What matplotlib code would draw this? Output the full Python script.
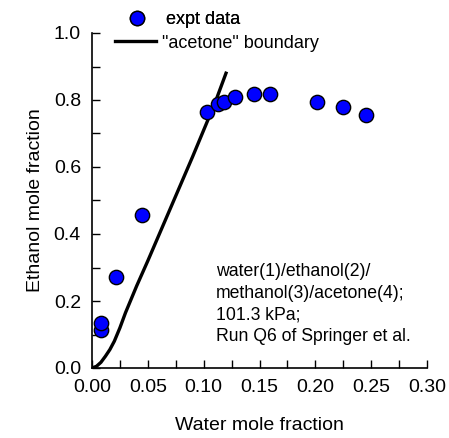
import matplotlib.pyplot as plt
from matplotlib.ticker import MultipleLocator

plt.rcParams["font.family"] = ["Liberation Sans", "DejaVu Sans"]

# experimental points (water, ethanol mole fractions)
x_expt = [0.0078, 0.0078, 0.0215, 0.0445, 0.1027, 0.1131, 0.118, 0.128,
          0.145, 0.159, 0.2018, 0.2245, 0.2454]
y_expt = [0.113, 0.135, 0.273, 0.457, 0.765, 0.787, 0.795, 0.810,
          0.817, 0.817, 0.794, 0.778, 0.755]

# "acetone" boundary curve
x_bound = [0.0, 0.004, 0.008, 0.012, 0.016, 0.02, 0.025, 0.03, 0.04,
           0.05, 0.07, 0.09, 0.11, 0.12]
y_bound = [0.0, 0.005, 0.017, 0.035, 0.055, 0.08, 0.12, 0.165, 0.245,
           0.32, 0.475, 0.63, 0.79, 0.88]

W, H = 449, 438
fig = plt.figure(figsize=(W / 100, H / 100), dpi=100)
ax = fig.add_axes([92 / W, 1 - 368 / H, 335 / W, 335 / H])

line, = ax.plot(x_bound, y_bound, color="black", lw=2.4, zorder=2)
pts, = ax.plot(x_expt, y_expt, "o", ms=10.3, mfc="#0000ff", mec="black",
               mew=1.0, zorder=3, clip_on=False)

ax.set_xlim(0, 0.30)
ax.set_ylim(0, 1.0)
ax.xaxis.set_major_locator(MultipleLocator(0.05))
ax.xaxis.set_minor_locator(MultipleLocator(0.025))
ax.yaxis.set_major_locator(MultipleLocator(0.2))
ax.yaxis.set_minor_locator(MultipleLocator(0.1))
ax.xaxis.set_major_formatter(plt.FormatStrFormatter("%.2f"))
ax.yaxis.set_major_formatter(plt.FormatStrFormatter("%.1f"))
ax.tick_params(which="both", direction="in", length=5.5, width=1,
               labelsize=14, pad=8, top=False, right=False)
for s in ["top", "right"]:
    ax.spines[s].set_visible(False)
for s in ["left", "bottom"]:
    ax.spines[s].set_linewidth(1.2)

ax.set_xlabel("Water mole fraction", fontsize=14)
ax.set_ylabel("Ethanol mole fraction", fontsize=14)
ax.xaxis.set_label_coords(0.5, -0.145)
ax.yaxis.set_label_coords(-0.143, 0.5)

ax.text(0.370, 0.313,
        "water(1)/ethanol(2)/\nmethanol(3)/acetone(4);\n101.3 kPa;\nRun Q6 of Springer et al.",
        fontsize=12.7, va="top", ha="left", linespacing=1.36,
        transform=ax.transAxes)

leg1 = fig.legend([pts], ["expt data"], loc="center left",
                  bbox_to_anchor=(116.5 / W, 1 - 20 / H), frameon=False,
                  fontsize=13, handlelength=2.27, handletextpad=0.47,
                  borderpad=0, borderaxespad=0)
fig.legend([line], ['"acetone" boundary'], loc="center left",
           bbox_to_anchor=(115 / W, 1 - 43 / H), frameon=False,
           fontsize=13, handlelength=2.27, handletextpad=0.32,
           borderpad=0, borderaxespad=0)
fig.add_artist(leg1)

fig.savefig("out.png", dpi=100)
